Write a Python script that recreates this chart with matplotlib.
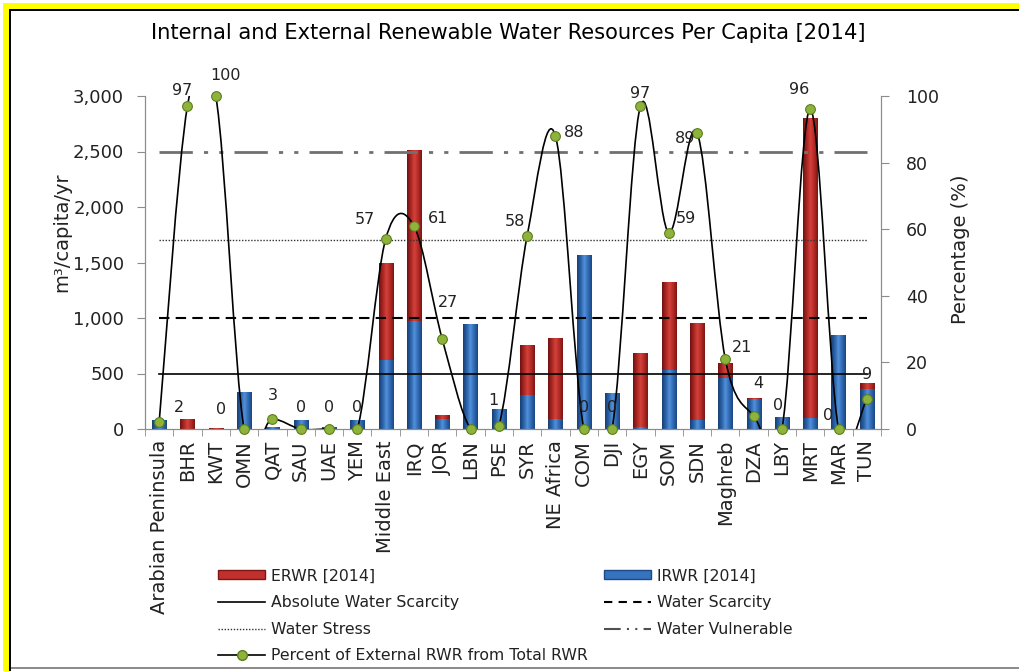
import matplotlib
matplotlib.use("Agg")
import matplotlib.pyplot as plt
import numpy as np
from matplotlib.path import Path
from matplotlib.patches import PathPatch, Rectangle
from matplotlib.lines import Line2D
from matplotlib.colors import LinearSegmentedColormap
from matplotlib.ticker import FuncFormatter, MultipleLocator

regions = ["Arabian Peninsula", "BHR", "KWT", "OMN", "QAT", "SAU", "UAE", "YEM",
           "Middle East", "IRQ", "JOR", "LBN", "PSE", "SYR", "NE Africa", "COM",
           "DJI", "EGY", "SOM", "SDN", "Maghreb", "DZA", "LBY", "MRT", "MAR", "TUN"]
irwr = [81, 3, 0, 333, 18, 81, 15, 81, 621, 973, 90, 946, 180, 306, 90, 1567,
        324, 20, 531, 81, 460, 270, 108, 99, 847, 360]
erwr = [2, 87, 5, 0, 1, 0, 0, 0, 874, 1541, 36, 0, 2, 451, 730, 0,
        0, 665, 793, 874, 135, 10, 0, 2701, 0, 54]
pct_ext = [2, 97, 100, 0, 3, 0, 0, 0, 57, 61, 27, 0, 1, 58, 88, 0,
           0, 97, 59, 89, 21, 4, 0, 96, 0, 9]
show_label = [True] * 26
show_label[11] = False

abs_scarcity = 500
scarcity = 1000
stress = 1700
vulnerable = 2500

# label offsets in pixels (hand placed like the original)
lab_off = [(20, 15), (-5, 15), (10, 20), (-23, 20), (0, 24), (0, 21), (0, 21), (0, 21),
           (-21, 20), (24, 7), (6, 37), (0, 21), (-5, 25), (-12, 14), (19, 3), (0, 21),
           (0, 21), (0, 12), (17, 14), (-12, -6), (17, 12), (5, 32), (-4, 23), (-11, 20),
           (-10, 13), (0, 25)]

plt.rcParams["font.family"] = ["DejaVu Sans"]
txt = "#222222"

W, H = 1019, 671
fig = plt.figure(figsize=(W / 100, H / 100), dpi=100)
L, R, T, B = 145, 881, 96, 429
ax = fig.add_axes([L / W, 1 - B / H, (R - L) / W, (B - T) / H])
ax2 = ax.twinx()

red = "#C0302C"
red_dark = "#7E1614"
blue = "#3673BF"
blue_dark = "#1D4A86"
red_cmap = LinearSegmentedColormap.from_list("r", ["#6E1210", "#A82522", "#D4423C", "#B52A26", "#7A1614"])
blue_cmap = LinearSegmentedColormap.from_list("b", ["#173E72", "#2A62A8", "#5291DA", "#2F69B3", "#1B4780"])
grad = np.linspace(0, 1, 64).reshape(1, -1)

x = np.arange(len(regions))
b1 = ax.bar(x, irwr, width=0.5, color=blue, edgecolor="none", zorder=2)
b2 = ax.bar(x, erwr, width=0.5, bottom=irwr, color=red, edgecolor="none", zorder=2)
for bars, cm in ((b1, blue_cmap), (b2, red_cmap)):
    for p in bars:
        if p.get_height() <= 0:
            continue
        bx, by = p.get_x(), p.get_y()
        im = ax.imshow(grad, extent=[bx, bx + p.get_width(), by, by + p.get_height()],
                       aspect="auto", cmap=cm, zorder=2.1, interpolation="bilinear")
        im.set_clip_path(p)

x0, x1 = x[0], x[-1]
ax.plot([x0, x1], [abs_scarcity] * 2, color="black", lw=1.2, zorder=3)
ax.plot([x0, x1], [scarcity] * 2, color="black", lw=1.5, dashes=(5, 3), zorder=3)
ax.plot([x0, x1], [stress] * 2, color="#333333", lw=1.0, dashes=(1, 1.2), zorder=3)
ax.plot([x0, x1], [vulnerable] * 2, color="#707070", lw=2.0,
        dashes=(12, 4, 1.5, 4, 1.5, 4), zorder=3)

ax.set_xlim(-0.5, len(regions) - 0.5)
ax.set_ylim(0, 3000)
ax2.set_ylim(0, 100)
ax.yaxis.set_major_locator(MultipleLocator(500))
ax.yaxis.set_major_formatter(FuncFormatter(lambda v, p: f"{int(v):,}"))
ax2.yaxis.set_major_locator(MultipleLocator(20))

# smooth line through the percentages (Catmull-Rom style beziers)
pts = np.column_stack([x, pct_ext]).astype(float)
verts = [pts[0]]
codes = [Path.MOVETO]
n = len(pts)
for i in range(n - 1):
    pa = pts[i - 1] if i > 0 else pts[i]
    pd = pts[i + 2] if i + 2 < n else pts[i + 1]
    verts += [pts[i] + (pts[i + 1] - pa) / 6, pts[i + 1] - (pd - pts[i]) / 6, pts[i + 1]]
    codes += [Path.CURVE4] * 3
ax2.add_patch(PathPatch(Path(verts, codes), facecolor="none", edgecolor="black", lw=1.2, zorder=4))
ax2.plot(x, pct_ext, ls="none", marker="o", ms=7, mfc="#8DB33B", mec="#5C7D1E", mew=0.8,
         zorder=5, clip_on=False)

for i, v in enumerate(pct_ext):
    if show_label[i]:
        ax2.annotate(str(v), (x[i], v), xytext=lab_off[i], textcoords="offset pixels",
                     ha="center", va="center", fontsize=11.5, color=txt, zorder=6)

for a in (ax, ax2):
    a.spines["top"].set_visible(False)
    for s in ("left", "right", "bottom"):
        a.spines[s].set_color("#8c8c8c")
ax.tick_params(axis="y", direction="out", length=6, color="#8c8c8c", labelsize=13,
               labelcolor=txt, pad=9)
ax2.tick_params(axis="y", direction="out", length=6, color="#8c8c8c", labelsize=12.5,
                labelcolor=txt, pad=12)
ax.set_xticks(x)
ax.set_xticklabels(regions, rotation=90, fontsize=14, color=txt)
ax.set_xticks(np.arange(-0.5, len(regions), 1), minor=True)
ax.tick_params(axis="x", which="major", length=0, pad=8)
ax.tick_params(axis="x", which="minor", length=5, color="#8c8c8c")

ax.set_ylabel("m³/capita/yr", fontsize=14, color=txt)
ax.yaxis.set_label_coords(-0.100, 0.59)
ax2.set_ylabel("Percentage (%)", fontsize=14, color=txt)
ax2.yaxis.set_label_coords(1.095, 0.54)

fig.text(0.4985, 1 - 33 / H, "Internal and External Renewable Water Resources Per Capita [2014]",
         ha="center", va="center", fontsize=15.1, color="black")

h_erwr = Rectangle((0, 0), 1, 1, facecolor=red, edgecolor=red_dark)
h_irwr = Rectangle((0, 0), 1, 1, facecolor=blue, edgecolor=blue_dark)
h_abs = Line2D([], [], color="black", lw=1.2)
h_sc = Line2D([], [], color="black", lw=1.5, dashes=(4, 3))
h_st = Line2D([], [], color="#333333", lw=1.0, dashes=(1, 1.2))
h_vu = Line2D([], [], color="#505050", lw=1.5, dashes=(8, 3, 1, 3, 1, 3))
h_pc = Line2D([], [], color="black", lw=1.2, marker="o", ms=7, mfc="#8DB33B", mec="#5C7D1E")

leg_kw = dict(frameon=False, fontsize=11.3, handlelength=3.0, handleheight=0.5,
              labelspacing=0.74, handletextpad=0.4, borderaxespad=0, borderpad=0,
              labelcolor=txt)
fig.legend([h_erwr, h_abs, h_st, h_pc],
           ["ERWR [2014]", "Absolute Water Scarcity", "Water Stress",
            "Percent of External RWR from Total RWR"],
           loc="upper left", bbox_to_anchor=(218 / W, 1 - 568.5 / H), **leg_kw)
fig.legend([h_irwr, h_sc, h_vu],
           ["IRWR [2014]", "Water Scarcity", "Water Vulnerable"],
           loc="upper left", bbox_to_anchor=(604 / W, 1 - 568.5 / H), **leg_kw)

# yellow / black frame around the picture
def px_rect(x, y, w, h, **kw):
    fig.add_artist(Rectangle((x / W, 1 - (y + h) / H), w / W, h / H,
                             transform=fig.transFigure, lw=0, **kw))

px_rect(3, 3, W - 3, 6, facecolor="#FFFF00")
px_rect(3, 3, 6, H - 3, facecolor="#FFFF00")
px_rect(9, 9, W - 9, 2, facecolor="black")
px_rect(9, 9, 2, H - 9, facecolor="black")
px_rect(11, H - 4, W - 11, 1.5, facecolor="#8c8c8c")

fig.savefig("out.png", dpi=100)
